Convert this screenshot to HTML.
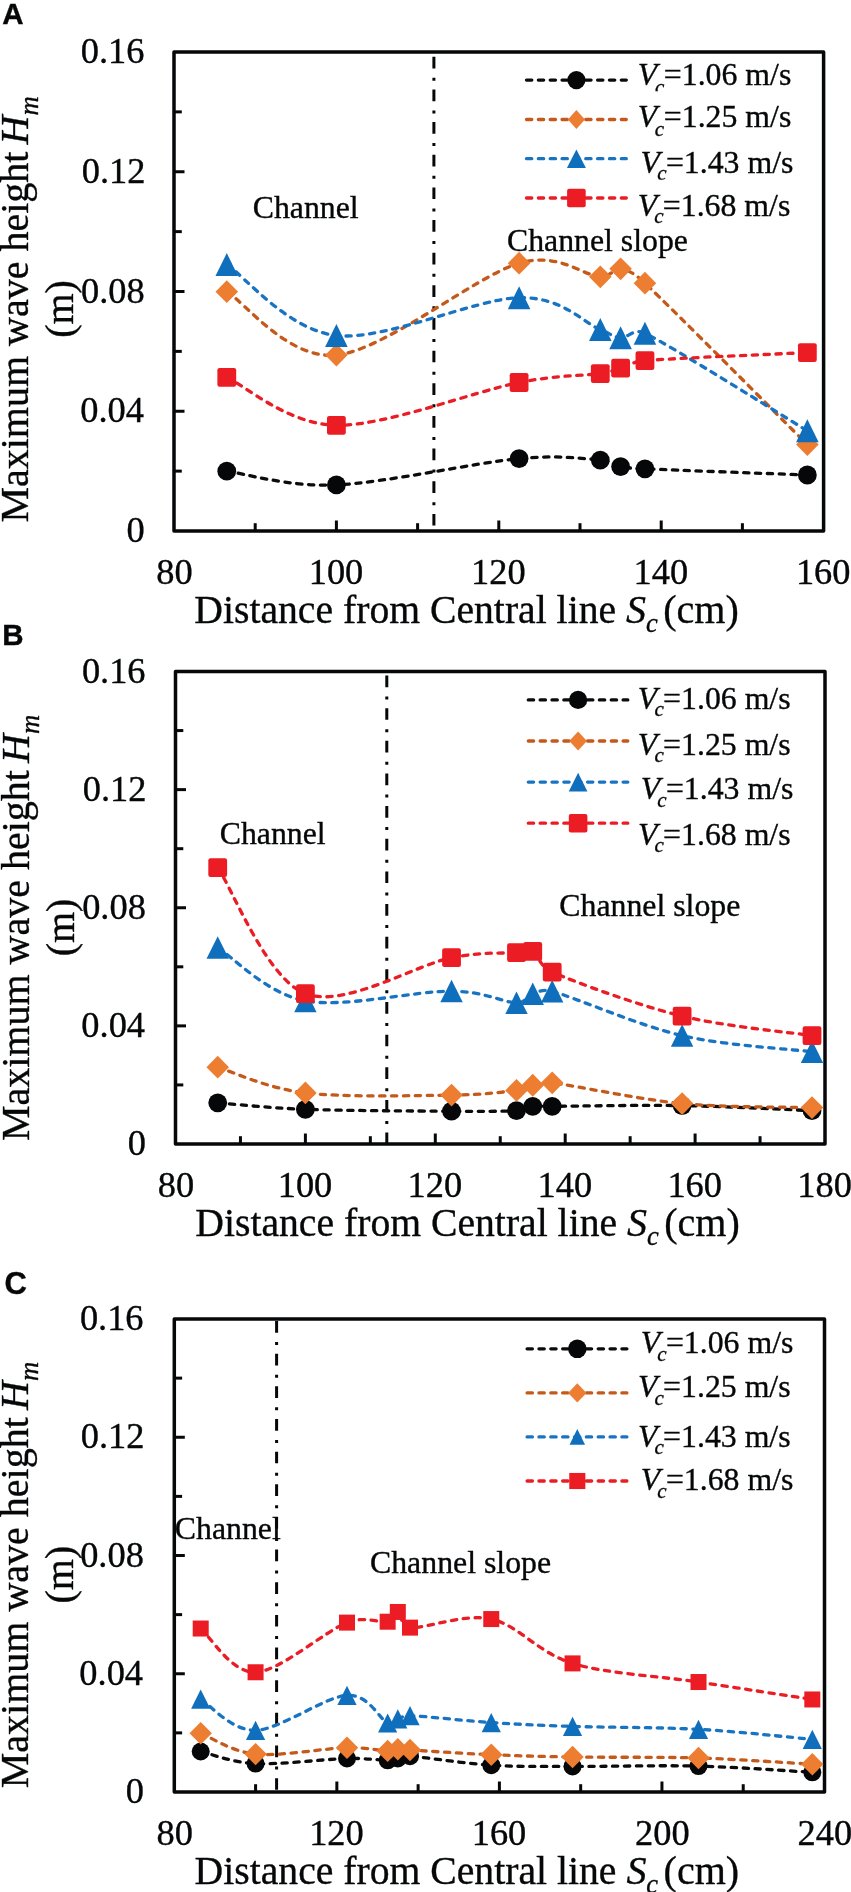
<!DOCTYPE html><html><head><meta charset="utf-8"><style>html,body{margin:0;padding:0;background:#fff;}svg{display:block;will-change:transform;}text{font-family:'Liberation Serif',serif;fill:#050708;stroke:#050708;stroke-width:0.35px;}</style></head><body>
<svg width="851" height="1892" viewBox="0 0 851 1892">
<rect width="851" height="1892" fill="#fff"/>
<rect x="174" y="52" width="649.6" height="479" fill="none" stroke="#050708" stroke-width="3.5" stroke-linejoin="round"/>
<line x1="174" y1="471.12" x2="181.8" y2="471.12" stroke="#050708" stroke-width="3"/>
<line x1="174" y1="411.25" x2="184.5" y2="411.25" stroke="#050708" stroke-width="3"/>
<line x1="174" y1="351.38" x2="181.8" y2="351.38" stroke="#050708" stroke-width="3"/>
<line x1="174" y1="291.5" x2="184.5" y2="291.5" stroke="#050708" stroke-width="3"/>
<line x1="174" y1="231.62" x2="181.8" y2="231.62" stroke="#050708" stroke-width="3"/>
<line x1="174" y1="171.75" x2="184.5" y2="171.75" stroke="#050708" stroke-width="3"/>
<line x1="174" y1="111.88" x2="181.8" y2="111.88" stroke="#050708" stroke-width="3"/>
<line x1="255.2" y1="531" x2="255.2" y2="523.2" stroke="#050708" stroke-width="3"/>
<line x1="336.4" y1="531" x2="336.4" y2="520.5" stroke="#050708" stroke-width="3"/>
<line x1="417.6" y1="531" x2="417.6" y2="523.2" stroke="#050708" stroke-width="3"/>
<line x1="498.8" y1="531" x2="498.8" y2="520.5" stroke="#050708" stroke-width="3"/>
<line x1="580" y1="531" x2="580" y2="523.2" stroke="#050708" stroke-width="3"/>
<line x1="661.2" y1="531" x2="661.2" y2="520.5" stroke="#050708" stroke-width="3"/>
<line x1="742.4" y1="531" x2="742.4" y2="523.2" stroke="#050708" stroke-width="3"/>
<line x1="433.9" y1="56.8" x2="433.9" y2="529" stroke="#050708" stroke-width="3" stroke-dasharray="11.7 9.3 3 8.65"/>
<text x="126.56" y="542.12" font-size="36.4">0</text>
<text x="80.25" y="422.28" font-size="36.4">0.04</text>
<text x="81.07" y="302.53" font-size="36.4">0.08</text>
<text x="81.7" y="182.78" font-size="36.4">0.12</text>
<text x="80.79" y="63.03" font-size="36.4">0.16</text>
<text x="156.3" y="584" font-size="36.4">80</text>
<text x="308.69" y="584" font-size="36.4">100</text>
<text x="471.09" y="584" font-size="36.4">120</text>
<text x="633.49" y="584" font-size="36.4">140</text>
<text x="795.89" y="584" font-size="36.4">160</text>
<text x="194.3" y="622.9" font-size="40" textLength="421.81" lengthAdjust="spacingAndGlyphs">Distance from Central line</text>
<text x="626.1" y="622.9" font-size="40" font-style="italic">S</text>
<text x="645.91" y="632.4" font-size="26.5" font-style="italic">c</text>
<text x="663.3" y="622.9" font-size="40">(cm)</text>
<g transform="translate(27.9,522.6) rotate(-90)">
<text x="0" y="0" font-size="40">Maximum wave height </text>
<text x="378.1" y="0" font-size="40" font-style="italic">H</text>
<text x="407.2" y="10" font-size="26.7" font-style="italic">m</text>
<text x="184.75" y="45.2" font-size="40">(m)</text>
</g>
<text x="2.26" y="23.6" font-size="29.5" font-weight="bold" style="font-family:'Liberation Sans',sans-serif">A</text>
<text x="252.73" y="217.9" font-size="31.8">Channel</text>
<text x="506.93" y="251" font-size="31.8">Channel slope</text>
<path d="M226.78,471.21 C245.05,473.5 287.68,487.01 336.4,484.9 C385.12,482.79 475.12,462.69 519.1,458.55 C559.53,454.74 583.38,458.71 600.3,460.05 C610.93,460.89 613.16,465.15 620.6,466.6 C628.04,468.06 632.74,468.24 644.96,468.79 C676.09,470.19 780.29,473.98 807.36,475.02" fill="none" stroke="#0b0b0b" stroke-width="3.3" stroke-dasharray="5.3 6.55" stroke-linecap="round"/>
<circle cx="226.78" cy="471.21" r="9.4" fill="#050708"/>
<circle cx="336.4" cy="484.9" r="9.4" fill="#050708"/>
<circle cx="519.1" cy="458.55" r="9.4" fill="#050708"/>
<circle cx="600.3" cy="460.05" r="9.4" fill="#050708"/>
<circle cx="620.6" cy="466.6" r="9.4" fill="#050708"/>
<circle cx="644.96" cy="468.79" r="9.4" fill="#050708"/>
<circle cx="807.36" cy="475.02" r="9.4" fill="#050708"/>
<path d="M226.78,291.71 C245.05,302.26 287.68,359.78 336.4,355.03 C385.12,350.28 475.12,276.25 519.1,263.21 C558.57,251.51 583.38,275.87 600.3,276.8 C611.19,277.4 613.16,267.74 620.6,268.81 C628.04,269.88 634.66,273.51 644.96,283.21 C676.09,312.51 780.29,417.7 807.36,444.6" fill="none" stroke="#C4591A" stroke-width="3.3" stroke-dasharray="5.3 6.55" stroke-linecap="round"/>
<path d="M226.78,280.31 L238.08,291.71 L226.78,303.11 L215.48,291.71 Z" fill="#ED7D31"/>
<path d="M336.4,343.63 L347.7,355.03 L336.4,366.43 L325.1,355.03 Z" fill="#ED7D31"/>
<path d="M519.1,251.81 L530.4,263.21 L519.1,274.61 L507.8,263.21 Z" fill="#ED7D31"/>
<path d="M600.3,265.4 L611.6,276.8 L600.3,288.2 L589,276.8 Z" fill="#ED7D31"/>
<path d="M620.6,257.41 L631.9,268.81 L620.6,280.21 L609.3,268.81 Z" fill="#ED7D31"/>
<path d="M644.96,271.81 L656.26,283.21 L644.96,294.61 L633.66,283.21 Z" fill="#ED7D31"/>
<path d="M807.36,433.2 L818.66,444.6 L807.36,456 L796.06,444.6 Z" fill="#ED7D31"/>
<path d="M226.78,264.59 C245.05,276.41 287.68,329.99 336.4,335.51 C385.12,341.02 475.12,298.65 519.1,297.67 C562.72,296.69 583.38,322.94 600.3,329.61 C610.46,333.62 613.16,337.09 620.6,337.69 C628.04,338.29 633.88,327.68 644.96,333.2 C676.09,348.72 780.29,414.53 807.36,430.8" fill="none" stroke="#1874C3" stroke-width="3.3" stroke-dasharray="5.3 6.55" stroke-linecap="round"/>
<path d="M226.78,253.09 L238.08,276.09 L215.48,276.09 Z" fill="#0F6FBD"/>
<path d="M336.4,324.01 L347.7,347.01 L325.1,347.01 Z" fill="#0F6FBD"/>
<path d="M519.1,286.17 L530.4,309.17 L507.8,309.17 Z" fill="#0F6FBD"/>
<path d="M600.3,318.11 L611.6,341.11 L589,341.11 Z" fill="#0F6FBD"/>
<path d="M620.6,326.19 L631.9,349.19 L609.3,349.19 Z" fill="#0F6FBD"/>
<path d="M644.96,321.7 L656.26,344.7 L633.66,344.7 Z" fill="#0F6FBD"/>
<path d="M807.36,419.3 L818.66,442.3 L796.06,442.3 Z" fill="#0F6FBD"/>
<path d="M226.78,377.42 C245.05,385.4 287.68,424.47 336.4,425.32 C385.12,426.17 475.12,391.14 519.1,382.51 C559.18,374.64 583.38,375.92 600.3,373.53 C610.7,372.06 613.16,370.29 620.6,368.14 C628.04,365.99 632.26,361.71 644.96,360.66 C676.09,358.06 780.29,353.92 807.36,352.57" fill="none" stroke="#EA1C24" stroke-width="3.3" stroke-dasharray="5.3 6.55" stroke-linecap="round"/>
<rect x="217.38" y="368.02" width="18.8" height="18.8" rx="2.2" fill="#EC1C24"/>
<rect x="327" y="415.92" width="18.8" height="18.8" rx="2.2" fill="#EC1C24"/>
<rect x="509.7" y="373.11" width="18.8" height="18.8" rx="2.2" fill="#EC1C24"/>
<rect x="590.9" y="364.13" width="18.8" height="18.8" rx="2.2" fill="#EC1C24"/>
<rect x="611.2" y="358.74" width="18.8" height="18.8" rx="2.2" fill="#EC1C24"/>
<rect x="635.56" y="351.26" width="18.8" height="18.8" rx="2.2" fill="#EC1C24"/>
<rect x="797.96" y="343.17" width="18.8" height="18.8" rx="2.2" fill="#EC1C24"/>
<line x1="526.5" y1="80.1" x2="626.3" y2="80.1" stroke="#0b0b0b" stroke-width="3.3" stroke-dasharray="5.3 6.55" stroke-linecap="round"/>
<circle cx="576.4" cy="80.1" r="9.1" fill="#050708"/>
<text x="637.63" y="85" font-size="31.8" font-style="italic">V</text>
<clipPath id="cl1"><rect x="640" y="78.9" width="40" height="12.4"/></clipPath>
<text x="655.07" y="93.77" font-size="21" font-style="italic" clip-path="url(#cl1)">c</text>
<text x="663.81" y="85" font-size="31.8">=1.06 m/s</text>
<line x1="526.5" y1="119.5" x2="626.3" y2="119.5" stroke="#C4591A" stroke-width="3.3" stroke-dasharray="5.3 6.55" stroke-linecap="round"/>
<path d="M576.4,110.1 L584.9,119.5 L576.4,128.9 L567.9,119.5 Z" fill="#ED7D31"/>
<text x="637.63" y="126.7" font-size="31.8" font-style="italic">V</text>
<text x="654.77" y="135.57" font-size="21" font-style="italic">c</text>
<text x="663.81" y="126.7" font-size="31.8">=1.25 m/s</text>
<line x1="526.5" y1="158.7" x2="626.3" y2="158.7" stroke="#1874C3" stroke-width="3.3" stroke-dasharray="5.3 6.55" stroke-linecap="round"/>
<path d="M576.4,149.5 L585.9,167.9 L566.9,167.9 Z" fill="#0F6FBD"/>
<text x="640.53" y="172.8" font-size="31.8" font-style="italic">V</text>
<clipPath id="cl2"><rect x="640" y="165.1" width="40" height="14.6"/></clipPath>
<text x="657.37" y="179.97" font-size="21" font-style="italic" clip-path="url(#cl2)">c</text>
<text x="665.91" y="172.8" font-size="31.8">=1.43 m/s</text>
<line x1="526.5" y1="198" x2="626.3" y2="198" stroke="#EA1C24" stroke-width="3.3" stroke-dasharray="5.3 6.55" stroke-linecap="round"/>
<rect x="567.1" y="188.7" width="18.6" height="18.6" rx="2" fill="#EC1C24"/>
<text x="637.83" y="215.6" font-size="31.8" font-style="italic">V</text>
<text x="654.27" y="222.87" font-size="21" font-style="italic">c</text>
<text x="662.81" y="215.6" font-size="31.8">=1.68 m/s</text>
<rect x="175.5" y="671.5" width="649.5" height="472.5" fill="none" stroke="#050708" stroke-width="3.5" stroke-linejoin="round"/>
<line x1="175.5" y1="1084.94" x2="183.3" y2="1084.94" stroke="#050708" stroke-width="3"/>
<line x1="175.5" y1="1025.88" x2="186" y2="1025.88" stroke="#050708" stroke-width="3"/>
<line x1="175.5" y1="966.81" x2="183.3" y2="966.81" stroke="#050708" stroke-width="3"/>
<line x1="175.5" y1="907.75" x2="186" y2="907.75" stroke="#050708" stroke-width="3"/>
<line x1="175.5" y1="848.69" x2="183.3" y2="848.69" stroke="#050708" stroke-width="3"/>
<line x1="175.5" y1="789.62" x2="186" y2="789.62" stroke="#050708" stroke-width="3"/>
<line x1="175.5" y1="730.56" x2="183.3" y2="730.56" stroke="#050708" stroke-width="3"/>
<line x1="240.45" y1="1144" x2="240.45" y2="1136.2" stroke="#050708" stroke-width="3"/>
<line x1="305.4" y1="1144" x2="305.4" y2="1133.5" stroke="#050708" stroke-width="3"/>
<line x1="370.35" y1="1144" x2="370.35" y2="1136.2" stroke="#050708" stroke-width="3"/>
<line x1="435.3" y1="1144" x2="435.3" y2="1133.5" stroke="#050708" stroke-width="3"/>
<line x1="500.25" y1="1144" x2="500.25" y2="1136.2" stroke="#050708" stroke-width="3"/>
<line x1="565.2" y1="1144" x2="565.2" y2="1133.5" stroke="#050708" stroke-width="3"/>
<line x1="630.15" y1="1144" x2="630.15" y2="1136.2" stroke="#050708" stroke-width="3"/>
<line x1="695.1" y1="1144" x2="695.1" y2="1133.5" stroke="#050708" stroke-width="3"/>
<line x1="760.05" y1="1144" x2="760.05" y2="1136.2" stroke="#050708" stroke-width="3"/>
<line x1="386.8" y1="675.5" x2="386.8" y2="1143" stroke="#050708" stroke-width="3" stroke-dasharray="11.7 9.3 3 8.65"/>
<text x="127.66" y="1155.12" font-size="36.4">0</text>
<text x="81.35" y="1036.9" font-size="36.4">0.04</text>
<text x="82.17" y="918.78" font-size="36.4">0.08</text>
<text x="82.8" y="800.66" font-size="36.4">0.12</text>
<text x="81.89" y="682.53" font-size="36.4">0.16</text>
<text x="157.8" y="1197" font-size="36.4">80</text>
<text x="277.69" y="1197" font-size="36.4">100</text>
<text x="407.59" y="1197" font-size="36.4">120</text>
<text x="537.49" y="1197" font-size="36.4">140</text>
<text x="667.39" y="1197" font-size="36.4">160</text>
<text x="797.29" y="1197" font-size="36.4">180</text>
<text x="195.3" y="1235.9" font-size="40" textLength="421.81" lengthAdjust="spacingAndGlyphs">Distance from Central line</text>
<text x="627.1" y="1235.9" font-size="40" font-style="italic">S</text>
<text x="646.91" y="1245.4" font-size="26.5" font-style="italic">c</text>
<text x="664.3" y="1235.9" font-size="40">(cm)</text>
<g transform="translate(28.8,1141.1) rotate(-90)">
<text x="0" y="0" font-size="40">Maximum wave height </text>
<text x="378.1" y="0" font-size="40" font-style="italic">H</text>
<text x="407.2" y="10" font-size="26.7" font-style="italic">m</text>
<text x="184.75" y="45.2" font-size="40">(m)</text>
</g>
<text x="2.21" y="644.7" font-size="29.5" font-weight="bold" style="font-family:'Liberation Sans',sans-serif">B</text>
<text x="219.73" y="844.3" font-size="31.8">Channel</text>
<text x="559.33" y="916" font-size="31.8">Channel slope</text>
<path d="M217.72,1102.8 C232.33,1103.89 266.43,1107.9 305.4,1109.3 C344.37,1110.7 416.36,1111 451.54,1111.22 C484.01,1111.42 502.96,1111.45 516.49,1110.63 C524.88,1110.12 526.77,1107.01 532.73,1106.29 C538.68,1105.57 542.47,1106.33 552.21,1106.29 C577.11,1106.18 638.81,1104.89 682.11,1105.61 C725.41,1106.33 790.36,1109.79 812.01,1110.63" fill="none" stroke="#0b0b0b" stroke-width="3.3" stroke-dasharray="5.3 6.55" stroke-linecap="round"/>
<circle cx="217.72" cy="1102.8" r="9.4" fill="#050708"/>
<circle cx="305.4" cy="1109.3" r="9.4" fill="#050708"/>
<circle cx="451.54" cy="1111.22" r="9.4" fill="#050708"/>
<circle cx="516.49" cy="1110.63" r="9.4" fill="#050708"/>
<circle cx="532.73" cy="1106.29" r="9.4" fill="#050708"/>
<circle cx="552.21" cy="1106.29" r="9.4" fill="#050708"/>
<circle cx="682.11" cy="1105.61" r="9.4" fill="#050708"/>
<circle cx="812.01" cy="1110.63" r="9.4" fill="#050708"/>
<path d="M217.72,1067.22 C232.33,1071.5 266.43,1088.26 305.4,1092.91 C344.37,1097.56 416.36,1095.51 451.54,1095.1 C484.09,1094.71 502.96,1092.04 516.49,1090.4 C524.95,1089.37 526.77,1086.49 532.73,1085.23 C538.68,1083.98 542.47,1081.68 552.21,1082.87 C577.11,1085.92 638.81,1099.42 682.11,1103.54 C725.41,1107.67 790.36,1106.94 812.01,1107.62" fill="none" stroke="#C4591A" stroke-width="3.3" stroke-dasharray="5.3 6.55" stroke-linecap="round"/>
<path d="M217.72,1055.82 L229.02,1067.22 L217.72,1078.62 L206.42,1067.22 Z" fill="#ED7D31"/>
<path d="M305.4,1081.51 L316.7,1092.91 L305.4,1104.31 L294.1,1092.91 Z" fill="#ED7D31"/>
<path d="M451.54,1083.7 L462.84,1095.1 L451.54,1106.5 L440.24,1095.1 Z" fill="#ED7D31"/>
<path d="M516.49,1079 L527.79,1090.4 L516.49,1101.8 L505.19,1090.4 Z" fill="#ED7D31"/>
<path d="M532.73,1073.83 L544.02,1085.23 L532.73,1096.63 L521.43,1085.23 Z" fill="#ED7D31"/>
<path d="M552.21,1071.47 L563.51,1082.87 L552.21,1094.27 L540.91,1082.87 Z" fill="#ED7D31"/>
<path d="M682.11,1092.14 L693.41,1103.54 L682.11,1114.94 L670.81,1103.54 Z" fill="#ED7D31"/>
<path d="M812.01,1096.22 L823.31,1107.62 L812.01,1119.02 L800.71,1107.62 Z" fill="#ED7D31"/>
<path d="M217.72,947.59 C232.33,956.47 266.43,993.64 305.4,1000.89 C344.37,1008.14 416.36,990.76 451.54,991.09 C484.54,991.39 502.96,1002.41 516.49,1002.84 C525.8,1003.14 526.77,995.61 532.73,993.69 C538.68,991.77 542.76,988.67 552.21,991.32 C577.11,998.31 638.81,1025.56 682.11,1035.62 C725.41,1045.68 790.36,1049.01 812.01,1051.69" fill="none" stroke="#1874C3" stroke-width="3.3" stroke-dasharray="5.3 6.55" stroke-linecap="round"/>
<path d="M217.72,936.34 L228.92,958.84 L206.52,958.84 Z" fill="#0F6FBD"/>
<path d="M305.4,989.64 L316.6,1012.14 L294.2,1012.14 Z" fill="#0F6FBD"/>
<path d="M451.54,979.84 L462.74,1002.34 L440.34,1002.34 Z" fill="#0F6FBD"/>
<path d="M516.49,991.59 L527.69,1014.09 L505.29,1014.09 Z" fill="#0F6FBD"/>
<path d="M532.73,982.44 L543.93,1004.94 L521.52,1004.94 Z" fill="#0F6FBD"/>
<path d="M552.21,980.07 L563.41,1002.57 L541.01,1002.57 Z" fill="#0F6FBD"/>
<path d="M682.11,1024.37 L693.31,1046.87 L670.91,1046.87 Z" fill="#0F6FBD"/>
<path d="M812.01,1040.44 L823.21,1062.94 L800.81,1062.94 Z" fill="#0F6FBD"/>
<path d="M217.72,867.59 C232.33,888.6 266.43,978.67 305.4,993.69 C344.37,1008.7 416.36,964.5 451.54,957.66 C483.51,951.44 502.96,953.67 516.49,952.64 C524.6,952.02 526.77,948.21 532.73,951.46 C538.68,954.7 539.18,966.49 552.21,972.13 C577.11,982.91 638.81,1005.55 682.11,1016.13 C725.41,1026.71 790.36,1032.37 812.01,1035.62" fill="none" stroke="#EA1C24" stroke-width="3.3" stroke-dasharray="5.3 6.55" stroke-linecap="round"/>
<rect x="208.32" y="858.19" width="18.8" height="18.8" rx="2.2" fill="#EC1C24"/>
<rect x="296" y="984.29" width="18.8" height="18.8" rx="2.2" fill="#EC1C24"/>
<rect x="442.14" y="948.26" width="18.8" height="18.8" rx="2.2" fill="#EC1C24"/>
<rect x="507.09" y="943.24" width="18.8" height="18.8" rx="2.2" fill="#EC1C24"/>
<rect x="523.33" y="942.06" width="18.8" height="18.8" rx="2.2" fill="#EC1C24"/>
<rect x="542.81" y="962.73" width="18.8" height="18.8" rx="2.2" fill="#EC1C24"/>
<rect x="672.71" y="1006.73" width="18.8" height="18.8" rx="2.2" fill="#EC1C24"/>
<rect x="802.61" y="1026.22" width="18.8" height="18.8" rx="2.2" fill="#EC1C24"/>
<line x1="528.3" y1="699.9" x2="627.8" y2="699.9" stroke="#0b0b0b" stroke-width="3.3" stroke-dasharray="5.3 6.55" stroke-linecap="round"/>
<circle cx="578.1" cy="699.9" r="9.15" fill="#050708"/>
<text x="637.83" y="708.6" font-size="31.8" font-style="italic">V</text>
<text x="654.57" y="716.27" font-size="21" font-style="italic">c</text>
<text x="663.11" y="708.6" font-size="31.8">=1.06 m/s</text>
<line x1="528.3" y1="741" x2="627.8" y2="741" stroke="#C4591A" stroke-width="3.3" stroke-dasharray="5.3 6.55" stroke-linecap="round"/>
<path d="M578.1,731.6 L586.95,741 L578.1,750.4 L569.25,741 Z" fill="#ED7D31"/>
<text x="637.83" y="754.6" font-size="31.8" font-style="italic">V</text>
<text x="654.57" y="761.77" font-size="21" font-style="italic">c</text>
<text x="663.11" y="754.6" font-size="31.8">=1.25 m/s</text>
<line x1="528.3" y1="782.1" x2="627.8" y2="782.1" stroke="#1874C3" stroke-width="3.3" stroke-dasharray="5.3 6.55" stroke-linecap="round"/>
<path d="M578.1,772.7 L587.45,791.5 L568.75,791.5 Z" fill="#0F6FBD"/>
<text x="640.83" y="799" font-size="31.8" font-style="italic">V</text>
<text x="657.37" y="806.57" font-size="21" font-style="italic">c</text>
<text x="665.91" y="799" font-size="31.8">=1.43 m/s</text>
<line x1="528.3" y1="823.2" x2="627.8" y2="823.2" stroke="#EA1C24" stroke-width="3.3" stroke-dasharray="5.3 6.55" stroke-linecap="round"/>
<rect x="568.8" y="813.9" width="18.6" height="18.6" rx="2" fill="#EC1C24"/>
<text x="638.03" y="844.8" font-size="31.8" font-style="italic">V</text>
<text x="654.57" y="852.07" font-size="21" font-style="italic">c</text>
<text x="663.11" y="844.8" font-size="31.8">=1.68 m/s</text>
<rect x="174.3" y="1319" width="650.2" height="473" fill="none" stroke="#050708" stroke-width="3.5" stroke-linejoin="round"/>
<line x1="174.3" y1="1732.88" x2="182.1" y2="1732.88" stroke="#050708" stroke-width="3"/>
<line x1="174.3" y1="1673.75" x2="184.8" y2="1673.75" stroke="#050708" stroke-width="3"/>
<line x1="174.3" y1="1614.62" x2="182.1" y2="1614.62" stroke="#050708" stroke-width="3"/>
<line x1="174.3" y1="1555.5" x2="184.8" y2="1555.5" stroke="#050708" stroke-width="3"/>
<line x1="174.3" y1="1496.38" x2="182.1" y2="1496.38" stroke="#050708" stroke-width="3"/>
<line x1="174.3" y1="1437.25" x2="184.8" y2="1437.25" stroke="#050708" stroke-width="3"/>
<line x1="174.3" y1="1378.12" x2="182.1" y2="1378.12" stroke="#050708" stroke-width="3"/>
<line x1="255.58" y1="1792" x2="255.58" y2="1784.2" stroke="#050708" stroke-width="3"/>
<line x1="336.85" y1="1792" x2="336.85" y2="1781.5" stroke="#050708" stroke-width="3"/>
<line x1="418.12" y1="1792" x2="418.12" y2="1784.2" stroke="#050708" stroke-width="3"/>
<line x1="499.4" y1="1792" x2="499.4" y2="1781.5" stroke="#050708" stroke-width="3"/>
<line x1="580.68" y1="1792" x2="580.68" y2="1784.2" stroke="#050708" stroke-width="3"/>
<line x1="661.95" y1="1792" x2="661.95" y2="1781.5" stroke="#050708" stroke-width="3"/>
<line x1="743.22" y1="1792" x2="743.22" y2="1784.2" stroke="#050708" stroke-width="3"/>
<line x1="276.6" y1="1321.05" x2="276.6" y2="1791" stroke="#050708" stroke-width="3" stroke-dasharray="11.7 9.3 3 8.65"/>
<text x="125.66" y="1803.12" font-size="36.4">0</text>
<text x="79.35" y="1684.78" font-size="36.4">0.04</text>
<text x="80.17" y="1566.53" font-size="36.4">0.08</text>
<text x="80.8" y="1448.28" font-size="36.4">0.12</text>
<text x="79.89" y="1330.03" font-size="36.4">0.16</text>
<text x="156.6" y="1845" font-size="36.4">80</text>
<text x="309.14" y="1845" font-size="36.4">120</text>
<text x="471.69" y="1845" font-size="36.4">160</text>
<text x="635.01" y="1845" font-size="36.4">200</text>
<text x="797.56" y="1845" font-size="36.4">240</text>
<text x="194.6" y="1883.9" font-size="40" textLength="421.81" lengthAdjust="spacingAndGlyphs">Distance from Central line</text>
<text x="626.4" y="1883.9" font-size="40" font-style="italic">S</text>
<text x="646.21" y="1893.4" font-size="26.5" font-style="italic">c</text>
<text x="663.6" y="1883.9" font-size="40">(cm)</text>
<g transform="translate(27.9,1788.2) rotate(-90)">
<text x="0" y="0" font-size="40">Maximum wave height </text>
<text x="378.1" y="0" font-size="40" font-style="italic">H</text>
<text x="407.2" y="10" font-size="26.7" font-style="italic">m</text>
<text x="184.75" y="45.2" font-size="40">(m)</text>
</g>
<text x="4.56" y="1294.2" font-size="31" font-weight="bold" style="font-family:'Liberation Sans',sans-serif">C</text>
<text x="174.83" y="1539.1" font-size="31.8">Channel</text>
<text x="370.03" y="1572.9" font-size="31.8">Channel slope</text>
<path d="M200.71,1751.5 C209.86,1753.52 231.19,1762.45 255.58,1763.62 C279.96,1764.79 325,1759.06 347.01,1758.51 C367.34,1758 379.18,1760.31 387.65,1760.31 C392.81,1760.31 394.08,1759.19 397.81,1758.51 C401.53,1757.82 403.81,1755.76 410,1756.2 C425.58,1757.31 464.18,1763.49 491.27,1765.19 C518.36,1766.89 538.01,1766.25 572.55,1766.4 C607.09,1766.55 658.56,1765.12 698.52,1766.1 C738.48,1767.09 793.34,1771.28 812.31,1772.31" fill="none" stroke="#0b0b0b" stroke-width="3.3" stroke-dasharray="5.3 6.55" stroke-linecap="round"/>
<circle cx="200.71" cy="1751.5" r="9" fill="#050708"/>
<circle cx="255.58" cy="1763.62" r="9" fill="#050708"/>
<circle cx="347.01" cy="1758.51" r="9" fill="#050708"/>
<circle cx="387.65" cy="1760.31" r="9" fill="#050708"/>
<circle cx="397.81" cy="1758.51" r="9" fill="#050708"/>
<circle cx="410" cy="1756.2" r="9" fill="#050708"/>
<circle cx="491.27" cy="1765.19" r="9" fill="#050708"/>
<circle cx="572.55" cy="1766.4" r="9" fill="#050708"/>
<circle cx="698.52" cy="1766.1" r="9" fill="#050708"/>
<circle cx="812.31" cy="1772.31" r="9" fill="#050708"/>
<path d="M200.71,1733.2 C209.86,1736.68 231.19,1751.69 255.58,1754.1 C279.96,1756.52 325,1748.22 347.01,1747.69 C367.39,1747.19 379.18,1750.66 387.65,1750.91 C392.8,1751.06 394.08,1749.34 397.81,1749.19 C401.53,1749.05 403.9,1749.66 410,1750.02 C425.58,1750.94 464.18,1753.53 491.27,1754.69 C518.36,1755.85 538.01,1756.45 572.55,1757 C607.09,1757.55 658.56,1756.8 698.52,1758 C738.48,1759.21 793.34,1763.18 812.31,1764.21" fill="none" stroke="#C4591A" stroke-width="3.3" stroke-dasharray="5.3 6.55" stroke-linecap="round"/>
<path d="M200.71,1722 L211.91,1733.2 L200.71,1744.4 L189.51,1733.2 Z" fill="#ED7D31"/>
<path d="M255.58,1742.9 L266.78,1754.1 L255.58,1765.3 L244.38,1754.1 Z" fill="#ED7D31"/>
<path d="M347.01,1736.49 L358.21,1747.69 L347.01,1758.89 L335.81,1747.69 Z" fill="#ED7D31"/>
<path d="M387.65,1739.71 L398.85,1750.91 L387.65,1762.11 L376.45,1750.91 Z" fill="#ED7D31"/>
<path d="M397.81,1737.99 L409.01,1749.19 L397.81,1760.39 L386.61,1749.19 Z" fill="#ED7D31"/>
<path d="M410,1738.82 L421.2,1750.02 L410,1761.22 L398.8,1750.02 Z" fill="#ED7D31"/>
<path d="M491.27,1743.49 L502.47,1754.69 L491.27,1765.89 L480.07,1754.69 Z" fill="#ED7D31"/>
<path d="M572.55,1745.8 L583.75,1757 L572.55,1768.2 L561.35,1757 Z" fill="#ED7D31"/>
<path d="M698.52,1746.8 L709.72,1758 L698.52,1769.2 L687.32,1758 Z" fill="#ED7D31"/>
<path d="M812.31,1753.01 L823.51,1764.21 L812.31,1775.41 L801.11,1764.21 Z" fill="#ED7D31"/>
<path d="M200.71,1699.17 C209.86,1704.36 231.19,1730.94 255.58,1730.3 C279.96,1729.66 325,1696.55 347.01,1695.33 C369.02,1694.11 379.18,1719.07 387.65,1723 C392.62,1725.31 394.08,1720.12 397.81,1718.89 C401.53,1717.66 403.69,1715.37 410,1715.61 C425.58,1716.22 464.18,1720.73 491.27,1722.53 C518.36,1724.32 538.01,1725.24 572.55,1726.37 C607.09,1727.5 658.56,1727.16 698.52,1729.33 C738.48,1731.5 793.34,1737.7 812.31,1739.38" fill="none" stroke="#1874C3" stroke-width="3.3" stroke-dasharray="5.3 6.55" stroke-linecap="round"/>
<path d="M200.71,1689.57 L210.31,1708.77 L191.11,1708.77 Z" fill="#0F6FBD"/>
<path d="M255.58,1720.7 L265.18,1739.9 L245.98,1739.9 Z" fill="#0F6FBD"/>
<path d="M347.01,1685.73 L356.61,1704.93 L337.41,1704.93 Z" fill="#0F6FBD"/>
<path d="M387.65,1713.4 L397.25,1732.6 L378.05,1732.6 Z" fill="#0F6FBD"/>
<path d="M397.81,1709.29 L407.41,1728.49 L388.21,1728.49 Z" fill="#0F6FBD"/>
<path d="M410,1706.01 L419.6,1725.21 L400.4,1725.21 Z" fill="#0F6FBD"/>
<path d="M491.27,1712.93 L500.87,1732.13 L481.67,1732.13 Z" fill="#0F6FBD"/>
<path d="M572.55,1716.77 L582.15,1735.97 L562.95,1735.97 Z" fill="#0F6FBD"/>
<path d="M698.52,1719.73 L708.12,1738.93 L688.92,1738.93 Z" fill="#0F6FBD"/>
<path d="M812.31,1729.78 L821.91,1748.98 L802.71,1748.98 Z" fill="#0F6FBD"/>
<path d="M200.71,1628.52 C209.86,1635.81 231.19,1673.26 255.58,1672.27 C279.96,1671.29 325,1631.03 347.01,1622.61 C365.99,1615.34 379.18,1623.49 387.65,1621.72 C394.54,1620.28 394.08,1610.98 397.81,1611.96 C401.53,1612.95 400.1,1626.88 410,1627.63 C425.58,1628.82 464.18,1613.1 491.27,1619.06 C518.36,1625.02 538.01,1652.91 572.55,1663.4 C607.09,1673.9 658.56,1676.02 698.52,1682.03 C738.48,1688.04 793.34,1696.56 812.31,1699.47" fill="none" stroke="#EA1C24" stroke-width="3.3" stroke-dasharray="5.3 6.55" stroke-linecap="round"/>
<rect x="192.71" y="1620.52" width="16" height="16" rx="0" fill="#EC1C24"/>
<rect x="247.58" y="1664.27" width="16" height="16" rx="0" fill="#EC1C24"/>
<rect x="339.01" y="1614.61" width="16" height="16" rx="0" fill="#EC1C24"/>
<rect x="379.65" y="1613.72" width="16" height="16" rx="0" fill="#EC1C24"/>
<rect x="389.81" y="1603.96" width="16" height="16" rx="0" fill="#EC1C24"/>
<rect x="402" y="1619.63" width="16" height="16" rx="0" fill="#EC1C24"/>
<rect x="483.27" y="1611.06" width="16" height="16" rx="0" fill="#EC1C24"/>
<rect x="564.55" y="1655.4" width="16" height="16" rx="0" fill="#EC1C24"/>
<rect x="690.52" y="1674.03" width="16" height="16" rx="0" fill="#EC1C24"/>
<rect x="804.31" y="1691.47" width="16" height="16" rx="0" fill="#EC1C24"/>
<line x1="527.1" y1="1348.8" x2="626.9" y2="1348.8" stroke="#0b0b0b" stroke-width="3.3" stroke-dasharray="5.3 6.55" stroke-linecap="round"/>
<circle cx="577.3" cy="1348.8" r="9.3" fill="#050708"/>
<text x="640.83" y="1353" font-size="31.8" font-style="italic">V</text>
<text x="657.37" y="1360.77" font-size="21" font-style="italic">c</text>
<text x="665.91" y="1353" font-size="31.8">=1.06 m/s</text>
<line x1="527.1" y1="1392.9" x2="626.9" y2="1392.9" stroke="#C4591A" stroke-width="3.3" stroke-dasharray="5.3 6.55" stroke-linecap="round"/>
<path d="M577.3,1383.35 L586.45,1392.9 L577.3,1402.45 L568.15,1392.9 Z" fill="#ED7D31"/>
<text x="638.03" y="1396.9" font-size="31.8" font-style="italic">V</text>
<text x="654.57" y="1404.67" font-size="21" font-style="italic">c</text>
<text x="663.11" y="1396.9" font-size="31.8">=1.25 m/s</text>
<line x1="527.1" y1="1436.9" x2="626.9" y2="1436.9" stroke="#1874C3" stroke-width="3.3" stroke-dasharray="5.3 6.55" stroke-linecap="round"/>
<path d="M577.3,1429 L585.05,1444.8 L569.55,1444.8 Z" fill="#0F6FBD"/>
<text x="638.03" y="1446.5" font-size="31.8" font-style="italic">V</text>
<text x="654.57" y="1453.67" font-size="21" font-style="italic">c</text>
<text x="663.11" y="1446.5" font-size="31.8">=1.43 m/s</text>
<line x1="527.1" y1="1481" x2="626.9" y2="1481" stroke="#EA1C24" stroke-width="3.3" stroke-dasharray="5.3 6.55" stroke-linecap="round"/>
<rect x="569.25" y="1472.95" width="16.1" height="16.1" rx="0" fill="#EC1C24"/>
<text x="640.83" y="1489.8" font-size="31.8" font-style="italic">V</text>
<text x="657.37" y="1497.57" font-size="21" font-style="italic">c</text>
<text x="665.91" y="1489.8" font-size="31.8">=1.68 m/s</text>
</svg></body></html>
